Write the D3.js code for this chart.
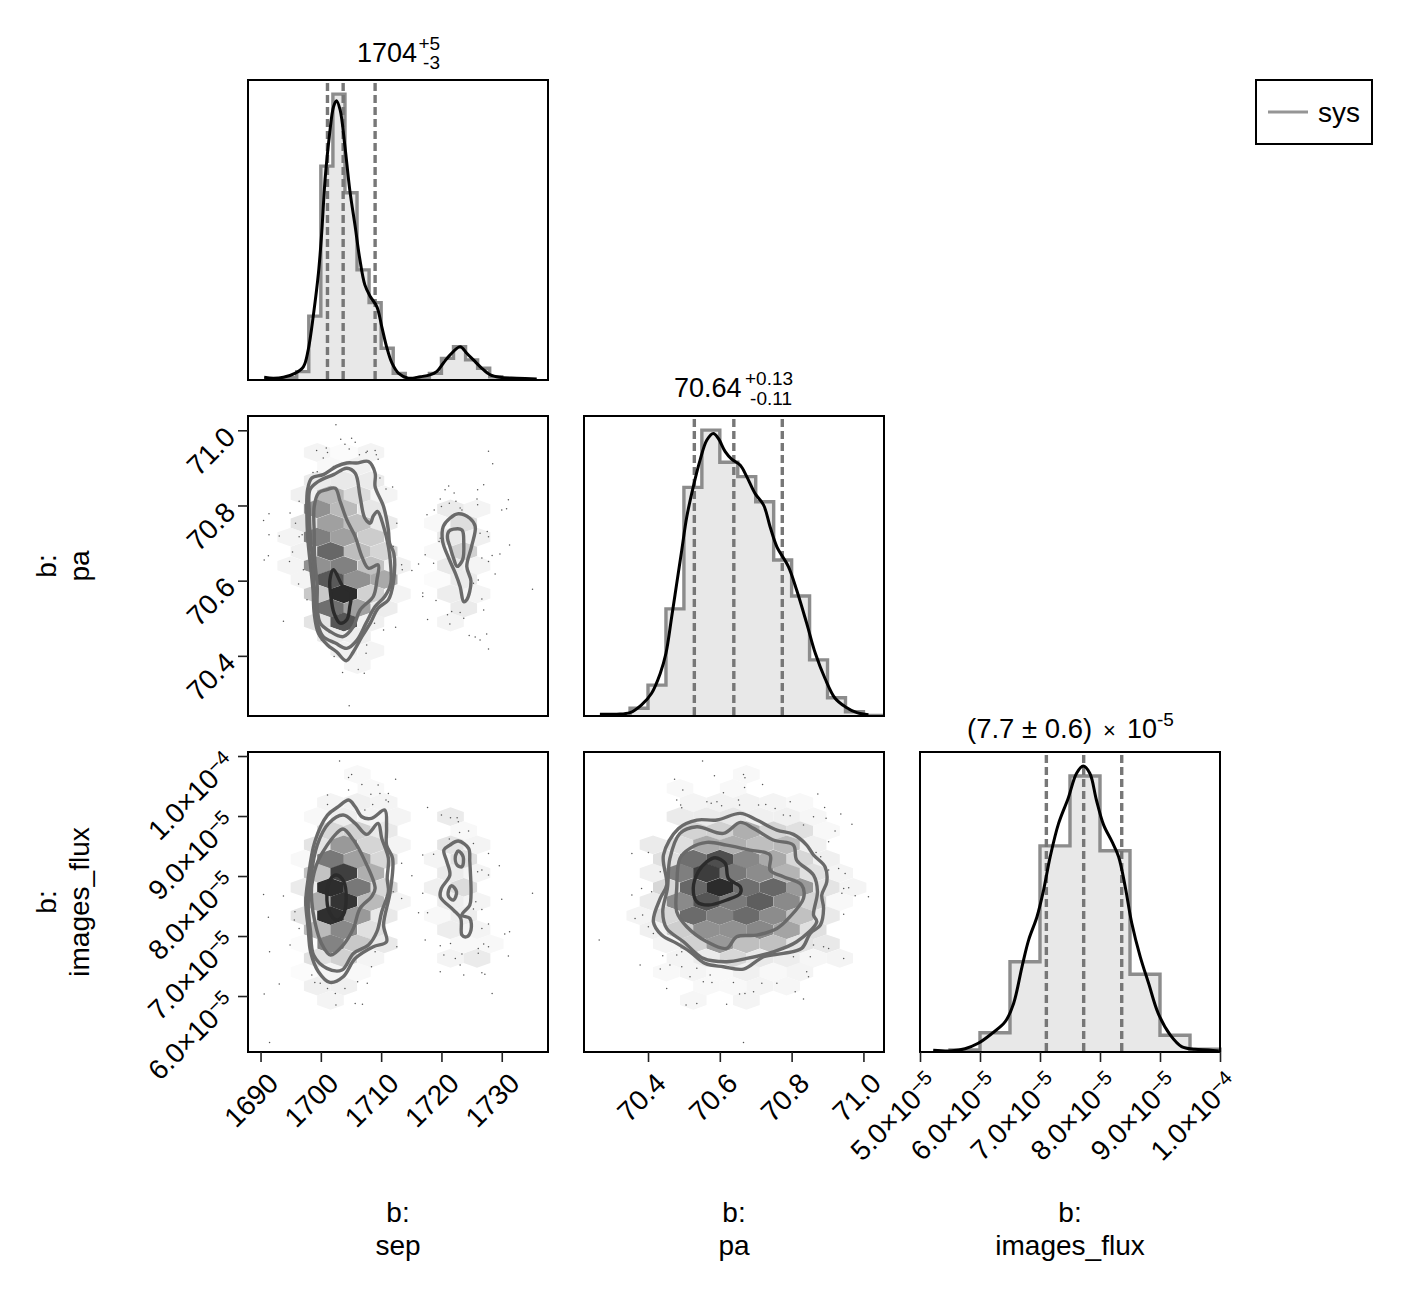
<!DOCTYPE html>
<html>
<head>
<meta charset="utf-8">
<script src="https://cdn.jsdelivr.net/npm/d3@7"></script>
<style>
  html, body { margin: 0; padding: 0; background: #fff; }
  text { font-family: "Liberation Sans", Arial, sans-serif; fill: #000; }
</style>
</head>
<body>
<svg id="chart" width="1404" height="1292"></svg>
<script>
// tick labels
const sepTicks = [1690, 1700, 1710, 1720, 1730];
const paTicks = [70.4, 70.6, 70.8, 71.0];
const fluxTicksX = [5, 6, 7, 8, 9, 10];
const fluxTicksY = [6, 7, 8, 9, 10];
const fluxMantissa = {5: "5.0", 6: "6.0", 7: "7.0", 8: "8.0", 9: "9.0", 10: "1.0"};
const fluxExponent = {5: "\u22125", 6: "\u22125", 7: "\u22125", 8: "\u22125", 9: "\u22125", 10: "\u22124"};

// histograms (flux is in units of 1e-5 everywhere)
const sepEdges = [1692, 1694, 1696, 1698, 1700, 1702, 1704, 1706, 1708, 1710, 1712, 1714, 1716, 1718, 1720, 1722, 1724, 1726, 1728, 1730, 1732, 1734];
const sepHist = [.002, .008, .028, .213, .713, .953, .624, .367, .258, .106, .022, .003, .008, .022, .072, .111, .067, .039, .011, .004, .002];
const paEdges = [70.35, 70.4, 70.45, 70.5, 70.55, 70.6, 70.65, 70.7, 70.75, 70.8, 70.85, 70.9, 70.95, 71.0, 71.05];
const paHist = [.026, .103, .357, .762, .953, .846, .798, .714, .52, .4, .187, .061, .014, .002];
const fluxEdges = [5.5, 6, 6.5, 7, 7.5, 8, 8.5, 9, 9.5, 10];
const fluxHist = [.007, .064, .301, .687, .92, .671, .259, .056, .009];

// quantile lines
const sepQuant = [1701.1, 1703.7, 1709.0];
const paQuant = [70.529, 70.639, 70.774];
const fluxQuant = [7.106, 7.728, 8.362];

// kde curves
const sepKde = [[1690.6,.009],[1692.1,.006],[1693.8,.009],[1695.7,.022],[1697.1,.044],[1697.9,.1],[1698.8,.222],[1699.6,.356],[1700.1,.478],[1700.7,.667],[1701.4,.811],[1702.1,.911],[1702.6,.931],[1703.2,.9],[1704,.778],[1704.8,.633],[1705.7,.511],[1706.4,.411],[1707.3,.317],[1708.2,.278],[1709.3,.244],[1710.1,.178],[1710.9,.111],[1711.8,.056],[1712.9,.022],[1714.5,.006],[1716.5,.011],[1718.1,.017],[1719.2,.028],[1720.3,.056],[1721.4,.083],[1723.1,.111],[1724.2,.089],[1725.3,.067],[1726.7,.039],[1728.1,.017],[1729.7,.009],[1732.5,.006],[1735.8,.003]];
const paKde = [[70.266,.006],[70.313,.006],[70.35,.011],[70.382,.037],[70.41,.076],[70.434,.142],[70.45,.209],[70.466,.331],[70.48,.442],[70.494,.553],[70.508,.664],[70.526,.764],[70.545,.853],[70.564,.92],[70.582,.942],[70.596,.925],[70.615,.881],[70.633,.856],[70.657,.836],[70.675,.798],[70.698,.742],[70.722,.703],[70.74,.631],[70.759,.564],[70.791,.498],[70.814,.42],[70.842,.309],[70.866,.209],[70.893,.125],[70.921,.059],[70.949,.031],[70.982,.011],[71.014,.004]];
const fluxKde = [[5.22,.006],[5.53,.004],[5.75,.011],[5.97,.029],[6.2,.062],[6.42,.101],[6.56,.162],[6.7,.284],[6.81,.373],[6.95,.451],[7.06,.54],[7.17,.651],[7.31,.762],[7.47,.846],[7.61,.929],[7.72,.953],[7.83,.929],[7.94,.84],[8.06,.757],[8.2,.701],[8.31,.651],[8.42,.551],[8.53,.429],[8.67,.318],[8.81,.229],[8.97,.129],[9.17,.057],[9.36,.018],[9.58,.009],[9.81,.007],[9.98,.003]];

// hexbin cells: x, y, density (0-100)
const hexSepPa = [
  [1699.4,70.941,5],[1703.8,70.941,2],[1708.3,70.941,5],
  [1701.6,70.904,3],[1706.05,70.904,7],
  [1699.4,70.866,9],[1703.8,70.866,10],[1708.3,70.866,9],
  [1697.2,70.828,7],[1701.6,70.828,32],[1706.05,70.828,16],[1710.5,70.828,5],
  [1699.4,70.791,50],[1703.8,70.791,31],[1708.3,70.791,11],
  [1697.2,70.753,12],[1701.6,70.753,43],[1706.05,70.753,29],[1710.5,70.753,9],
  [1695,70.716,5],[1699.4,70.716,58],[1703.8,70.716,43],[1708.3,70.716,23],
  [1697.2,70.678,7],[1701.6,70.678,69],[1706.05,70.678,30],[1710.5,70.678,19],
  [1695,70.64,5],[1699.4,70.64,50],[1703.8,70.64,57],[1708.3,70.64,28],[1712.7,70.64,7],
  [1697.2,70.603,5],[1701.6,70.603,75],[1706.05,70.603,50],[1710.5,70.603,39],
  [1699.4,70.565,25],[1703.8,70.565,96],[1708.3,70.565,21],[1712.7,70.565,5],
  [1701.6,70.527,65],[1706.05,70.527,43],[1710.5,70.527,8],
  [1699.4,70.49,12],[1703.8,70.49,77],[1708.3,70.49,7],
  [1701.6,70.452,9],[1706.05,70.452,8],
  [1703.8,70.414,7],[1708.3,70.414,5],
  [1706.05,70.377,5],
  [1721.5,70.791,9],[1725.9,70.791,5],
  [1719.3,70.753,3],[1723.7,70.753,15],
  [1721.5,70.716,10],[1725.9,70.716,7],
  [1719.3,70.678,3],[1723.7,70.678,21],
  [1721.5,70.64,10],[1725.9,70.64,5],
  [1719.3,70.603,2],[1723.7,70.603,9],
  [1721.5,70.565,8],[1725.9,70.565,5],
  [1723.7,70.527,9],
  [1721.5,70.49,5]
];
const hexSepFlux = [
  [1706.05,9.694,3],
  [1708.3,9.461,3],
  [1701.6,9.225,5],[1706.05,9.225,7],[1710.5,9.225,5],
  [1699.4,8.99,3],[1703.8,8.99,8],[1708.3,8.99,5],[1712.7,8.99,5],
  [1701.6,8.755,18],[1706.05,8.755,21],[1710.5,8.755,10],
  [1699.4,8.52,12],[1703.8,8.52,46],[1708.3,8.52,19],[1712.7,8.52,5],
  [1697.2,8.28,3],[1701.6,8.28,61],[1706.05,8.28,43],[1710.5,8.28,18],
  [1699.4,8.05,27],[1703.8,8.05,87],[1708.3,8.05,36],
  [1697.2,7.81,9],[1701.6,7.81,95],[1706.05,7.81,61],[1710.5,7.81,18],
  [1699.4,7.575,38],[1703.8,7.575,92],[1708.3,7.575,31],[1712.7,7.575,5],
  [1697.2,7.34,12],[1701.6,7.34,94],[1706.05,7.34,46],[1710.5,7.34,10],
  [1699.4,7.105,31],[1703.8,7.105,54],[1708.3,7.105,14],
  [1701.6,6.87,56],[1706.05,6.87,25],[1710.5,6.87,10],[1697.2,6.87,2],
  [1699.4,6.63,14],[1703.8,6.63,21],[1708.3,6.63,5],
  [1701.6,6.4,5],[1706.05,6.4,3],[1697.2,6.4,2],
  [1699.4,6.165,7],[1703.8,6.165,7],
  [1701.6,5.93,5],
  [1721.5,8.99,9],
  [1723.7,8.755,3],
  [1721.5,8.52,12],[1725.9,8.52,5],
  [1719.3,8.28,5],[1723.7,8.28,14],
  [1721.5,8.05,9],[1725.9,8.05,5],
  [1719.3,7.81,7],[1723.7,7.81,16],
  [1721.5,7.575,8],[1725.9,7.575,5],
  [1719.3,7.34,3],[1723.7,7.34,8],
  [1721.5,7.105,8],[1725.9,7.105,5],
  [1723.7,6.87,3],[1728.1,6.87,3],
  [1721.5,6.63,5],[1725.9,6.63,9]
];
const hexPaFlux = [
  [70.674,9.694,3],
  [70.489,9.461,3],[70.637,9.461,3],
  [70.526,9.225,5],[70.6,9.225,6],[70.674,9.225,6],[70.749,9.225,5],[70.823,9.225,3],
  [70.489,8.99,9],[70.563,8.99,9],[70.637,8.99,11],[70.711,8.99,7],[70.786,8.99,7],[70.86,8.99,4],
  [70.526,8.755,20],[70.6,8.755,21],[70.674,8.755,36],[70.749,8.755,19],[70.823,8.755,14],[70.897,8.755,3],
  [70.414,8.52,9],[70.489,8.52,15],[70.563,8.52,38],[70.637,8.52,36],[70.711,8.52,29],[70.786,8.52,31],[70.86,8.52,7],
  [70.451,8.28,14],[70.526,8.28,65],[70.6,8.28,80],[70.674,8.28,54],[70.749,8.28,39],[70.823,8.28,18],[70.897,8.28,7],
  [70.414,8.05,7],[70.489,8.05,58],[70.563,8.05,88],[70.637,8.05,61],[70.711,8.05,52],[70.786,8.05,34],[70.86,8.05,14],[70.934,8.05,5],
  [70.451,7.81,18],[70.526,7.81,69],[70.6,7.81,96],[70.674,7.81,65],[70.749,7.81,69],[70.823,7.81,46],[70.897,7.81,12],[70.971,7.81,5],
  [70.414,7.575,9],[70.489,7.575,53],[70.563,7.575,77],[70.637,7.575,60],[70.711,7.575,73],[70.786,7.575,53],[70.86,7.575,19],[70.934,7.575,3],
  [70.377,7.34,5],[70.451,7.34,18],[70.526,7.34,67],[70.6,7.34,57],[70.674,7.34,67],[70.749,7.34,52],[70.823,7.34,28],[70.897,7.34,10],
  [70.414,7.105,7],[70.489,7.105,22],[70.563,7.105,50],[70.637,7.105,50],[70.711,7.105,54],[70.786,7.105,41],[70.86,7.105,14],
  [70.451,6.87,5],[70.526,6.87,21],[70.6,6.87,46],[70.674,6.87,29],[70.749,6.87,28],[70.823,6.87,12],[70.897,6.87,10],
  [70.489,6.63,5],[70.563,6.63,9],[70.637,6.63,18],[70.711,6.63,10],[70.786,6.63,8],[70.86,6.63,4],[70.934,6.63,5],
  [70.451,6.4,3],[70.526,6.4,5],[70.6,6.4,3],[70.674,6.4,7],[70.749,6.4,3],[70.823,6.4,5],
  [70.563,6.165,3],[70.637,6.165,3],[70.711,6.165,5],[70.786,6.165,4],
  [70.526,5.93,4],[70.674,5.93,5]
];

// contours, outer to inner
const contourSepPa = [
  [[1707.9,70.917],[1709,70.886],[1709,70.85],[1710.4,70.797],[1711.2,70.735],[1711.4,70.7],[1712.1,70.673],[1712,70.593],[1711.2,70.549],[1709.5,70.527],[1708.2,70.487],[1706.8,70.451],[1705.4,70.411],[1704.2,70.387],[1702.6,70.411],[1701.1,70.429],[1699.6,70.46],[1698.9,70.513],[1698.7,70.575],[1698.3,70.638],[1697.9,70.7],[1697.7,70.762],[1697.8,70.842],[1698.5,70.873],[1700.4,70.882],[1702.6,70.904],[1704.3,70.913],[1705.9,70.913]],
  [[1705.7,70.886],[1706.5,70.824],[1707.3,70.766],[1708.2,70.753],[1708.7,70.772],[1709.4,70.784],[1710.4,70.744],[1711.2,70.691],[1711.5,70.655],[1711.6,70.593],[1710.6,70.558],[1709,70.531],[1707.5,70.487],[1706,70.442],[1704.3,70.42],[1702.4,70.434],[1700.4,70.451],[1699.6,70.478],[1699.2,70.531],[1698.9,70.584],[1698.7,70.646],[1698.3,70.709],[1698.1,70.779],[1698.2,70.842],[1699.6,70.864],[1702.1,70.882],[1704.3,70.899]],
  [[1702.4,70.846],[1703.2,70.811],[1704.3,70.762],[1705.7,70.717],[1706.8,70.664],[1707.9,70.633],[1709.5,70.642],[1709.3,70.602],[1708.7,70.558],[1706.5,70.522],[1705.4,70.478],[1703.7,70.451],[1701.5,70.465],[1699.9,70.487],[1699.4,70.531],[1699.4,70.584],[1699,70.655],[1698.9,70.726],[1698.9,70.797],[1699.6,70.833],[1701,70.842]],
  [[1702.1,70.629],[1703.7,70.584],[1705,70.571],[1704.8,70.531],[1704.3,70.496],[1703.2,70.487],[1702.2,70.513],[1701.6,70.567],[1701.5,70.602]],
  [[1722.8,70.778],[1724.7,70.766],[1725.6,70.744],[1725,70.691],[1724.2,70.638],[1724.9,70.598],[1724.2,70.549],[1723.7,70.544],[1723.1,70.584],[1722.3,70.62],[1721.2,70.66],[1720.2,70.704],[1720.3,70.744],[1721.4,70.766]],
  [[1722,70.737],[1723.4,70.735],[1723.7,70.7],[1723.5,70.655],[1722.6,70.638],[1722,70.66],[1721.4,70.691],[1721,70.713],[1721.2,70.731]]
];
const contourSepFlux = [
  [[1704.6,9.266],[1705.7,9.155],[1706.8,8.988],[1708.4,8.961],[1710.6,9.1],[1710.9,8.794],[1710.9,8.516],[1711.9,8.294],[1711.5,7.738],[1710.4,7.183],[1710.9,6.905],[1708.7,6.822],[1705.7,6.627],[1703.7,6.322],[1701.5,6.227],[1699.6,6.405],[1698.3,6.738],[1697.9,7.127],[1697.5,7.572],[1697.9,7.961],[1699,8.572],[1701.1,9.016],[1702.9,9.155]],
  [[1703.7,9.016],[1705.7,8.877],[1707.6,8.694],[1709.5,8.877],[1710.1,8.627],[1711.2,8.294],[1711,7.961],[1711.2,7.738],[1710.1,7.405],[1709.3,7.072],[1707.9,6.849],[1705.4,6.71],[1703.5,6.433],[1701,6.461],[1698.8,6.683],[1698.3,7.072],[1697.9,7.516],[1698.3,7.961],[1699.4,8.516],[1701.3,8.877]],
  [[1703.7,8.783],[1705.4,8.6],[1707.1,8.294],[1709,7.794],[1708.4,7.655],[1706.5,7.461],[1705.4,7.127],[1703.7,6.849],[1701.6,6.683],[1700.1,6.877],[1699,7.238],[1698.5,7.572],[1698.5,7.85],[1699.6,8.266],[1702.6,8.711]],
  [[1702.6,8.016],[1703.8,7.905],[1704.2,7.627],[1703.7,7.349],[1702.6,7.266],[1701.4,7.405],[1701,7.683],[1701.5,7.933]],
  [[1722.8,8.583],[1724.5,8.461],[1724.7,8.238],[1724.9,7.683],[1724.7,7.516],[1723.4,7.349],[1724.7,7.294],[1724.9,7.099],[1724.2,6.988],[1723.4,7.016],[1723.2,7.294],[1722,7.433],[1719.8,7.655],[1720,7.794],[1721.4,8.016],[1720.9,8.238],[1720.4,8.433],[1721.4,8.516]],
  [[1722.8,8.416],[1723.6,8.322],[1723.4,8.155],[1722.6,8.183],[1722.3,8.322]],
  [[1721.7,7.838],[1722.5,7.738],[1722,7.6],[1721.2,7.655],[1721.2,7.766]]
];
const contourPaFlux = [
  [[70.657,9.044],[70.703,8.933],[70.759,8.766],[70.805,8.694],[70.842,8.516],[70.861,8.35],[70.893,8.155],[70.898,7.905],[70.884,7.683],[70.889,7.461],[70.88,7.183],[70.852,7.044],[70.828,6.794],[70.777,6.71],[70.722,6.655],[70.666,6.449],[70.61,6.488],[70.559,6.544],[70.517,6.738],[70.48,6.877],[70.438,7.016],[70.415,7.238],[70.434,7.627],[70.452,7.85],[70.443,8.35],[70.485,8.794],[70.536,8.933],[70.592,8.933]],
  [[70.657,8.894],[70.694,8.794],[70.749,8.6],[70.805,8.516],[70.814,8.266],[70.861,8.016],[70.872,7.738],[70.861,7.349],[70.87,7.238],[70.814,6.905],[70.749,6.738],[70.675,6.627],[70.619,6.572],[70.554,6.627],[70.499,6.905],[70.452,7.127],[70.441,7.405],[70.454,7.794],[70.461,8.294],[70.489,8.711],[70.536,8.822],[70.61,8.711]],
  [[70.564,8.561],[70.619,8.516],[70.684,8.433],[70.74,8.35],[70.74,8.1],[70.777,7.988],[70.828,7.85],[70.833,7.627],[70.791,7.294],[70.759,7.127],[70.703,7.016],[70.647,6.988],[70.619,6.794],[70.564,6.905],[70.508,7.155],[70.48,7.405],[70.48,7.794],[70.489,8.294],[70.517,8.461]],
  [[70.587,8.305],[70.615,8.211],[70.624,7.961],[70.657,7.822],[70.657,7.711],[70.619,7.6],[70.568,7.516],[70.536,7.572],[70.526,7.794],[70.54,8.072],[70.564,8.239]]
];
// which contours of a panel are the darkest (innermost) ones
const darkSepPa = [3];
const darkSepFlux = [3];
const darkPaFlux = [3];

// scatter of the outlying samples
const dotsSepPa = [[1702.5,71.015],[1703.3,70.976],[1704,70.963],[1705.1,70.979],[1705.7,70.968],[1704.7,70.95],[1699.3,70.946],[1700.9,70.953],[1701.1,70.941],[1700.4,70.926],[1706.4,70.935],[1707.7,70.944],[1709,70.946],[1709.2,70.935],[1709.5,70.923],[1702.1,70.904],[1699.4,70.89],[1698.7,70.888],[1707.5,70.941],[1709.8,70.873],[1711.9,70.849],[1710.8,70.844],[1696.4,70.811],[1691.4,70.778],[1690.5,70.76],[1694.9,70.78],[1695.8,70.753],[1691.4,70.722],[1693.1,70.719],[1696.4,70.717],[1696.9,70.722],[1695.3,70.676],[1691.3,70.666],[1690.6,70.655],[1694.8,70.651],[1697.1,70.629],[1696.3,70.591],[1693.8,70.492],[1697.7,70.549],[1712.6,70.753],[1712,70.691],[1713.4,70.642],[1713.5,70.629],[1715.1,70.627],[1716.2,70.644],[1710.4,70.469],[1712.4,70.476],[1708.9,70.487],[1707.6,70.429],[1707.5,70.407],[1702.2,70.398],[1703.6,70.356],[1707.2,70.354],[1706.2,70.364],[1704.7,70.267],[1701.4,70.462],[1700.1,70.442],[1727.8,70.944],[1728.5,70.911],[1727,70.855],[1726,70.842],[1721.2,70.852],[1720.6,70.842],[1722.1,70.833],[1719.8,70.817],[1720,70.797],[1721.3,70.806],[1722.4,70.811],[1723.1,70.793],[1725.9,70.817],[1731.1,70.815],[1730,70.788],[1730.8,70.791],[1718.8,70.788],[1717.6,70.775],[1723.4,70.788],[1726,70.802],[1727.6,70.731],[1726.4,70.726],[1719.8,70.713],[1719.6,70.704],[1727.8,70.717],[1731.3,70.695],[1729.7,70.671],[1728.4,70.667],[1717.3,70.669],[1718.7,70.646],[1726.7,70.66],[1727.8,70.651],[1728.9,70.618],[1725.3,70.593],[1726.1,70.602],[1726.7,70.551],[1716.9,70.567],[1716.9,70.558],[1719.1,70.547],[1735.1,70.577],[1727,70.522],[1721,70.509],[1721.7,70.518],[1723.1,70.515],[1723.7,70.5],[1717.7,70.497],[1721.4,70.485],[1724.6,70.454],[1725.6,70.45],[1726.4,70.442],[1727.5,70.458],[1727.8,70.418]];
const dotsSepFlux = [[1703.1,9.916],[1705.1,9.694],[1704.6,9.644],[1712.4,9.611],[1706.8,9.527],[1709.5,9.516],[1704.6,9.433],[1711.2,9.377],[1709.8,9.377],[1708.3,9.361],[1701.1,9.35],[1701.1,9.194],[1703.2,9.194],[1710.8,9.266],[1711.2,9.238],[1707.3,9.1],[1708.6,9.194],[1710.5,9.1],[1717.7,9.144],[1720,9.016],[1721.5,8.972],[1722.6,8.972],[1722.8,8.905],[1723,8.727],[1724.5,8.75],[1725.3,8.544],[1721.3,8.616],[1727.8,8.377],[1716.9,8.349],[1718.7,8.361],[1690.5,7.694],[1693.8,7.666],[1691.3,7.311],[1693.1,6.199],[1690.6,6.033],[1691.5,5.227],[1694.9,6.849],[1691.5,6.738],[1695.7,7.405],[1696.4,7.127],[1695.6,7.266],[1698.5,6.349],[1699.9,6.211],[1699,6.227],[1701.1,6.127],[1702.4,6.044],[1705.7,5.877],[1706.9,5.861],[1702.5,5.849],[1704,6.127],[1707.7,6.211],[1706.1,6.238],[1708.4,6.488],[1712.6,6.822],[1709,6.738],[1712,7.738],[1713.4,8.211],[1715.1,8.005],[1713.4,7.627],[1716.2,7.388],[1717.7,7.388],[1716.9,7.711],[1729.6,8.172],[1726.7,8.1],[1727.8,8.016],[1726,8.072],[1730,7.611],[1725.7,7.572],[1725.3,7.449],[1726.7,7.444],[1731.3,7.072],[1730.5,7.033],[1727.8,7.199],[1726.7,7.127],[1726.1,6.794],[1727,6.866],[1727.8,6.822],[1717.3,6.933],[1719.8,6.838],[1721.5,6.877],[1720.4,6.683],[1722.3,6.627],[1723.4,6.699],[1726.1,6.711],[1731.1,6.666],[1723.7,6.349],[1726.7,6.388],[1727.2,6.361],[1728.4,6.044],[1735.1,7.711],[1719.8,6.405],[1723.1,6.516]];
const dotsPaFlux = [[70.552,9.916],[70.474,9.611],[70.585,9.672],[70.666,9.694],[70.67,9.639],[70.719,9.527],[70.497,9.433],[70.61,9.388],[70.669,9.477],[70.873,9.366],[70.48,9.266],[70.491,9.183],[70.494,9.138],[70.564,9.238],[70.576,9.211],[70.592,9.238],[70.605,9.172],[70.652,9.266],[70.655,9.183],[70.708,9.183],[70.728,9.194],[70.796,9.238],[70.754,9.127],[70.892,9.144],[70.937,9.033],[70.896,8.961],[70.861,8.988],[70.777,9.016],[70.796,9.005],[70.833,8.85],[70.968,8.861],[70.921,8.75],[70.903,8.572],[70.868,8.394],[70.881,8.322],[70.931,8.127],[70.903,8.1],[70.949,8.044],[70.945,7.794],[70.959,7.805],[71.014,7.655],[70.977,7.672],[70.94,7.711],[70.945,7.361],[70.355,8.377],[70.401,8.394],[70.382,7.794],[70.41,7.738],[70.355,7.683],[70.364,7.294],[70.385,7.349],[70.401,7.155],[70.264,6.933],[70.415,7.044],[70.434,8.072],[70.378,6.516],[70.441,6.672],[70.48,6.683],[70.494,6.738],[70.434,6.449],[70.461,6.516],[70.494,6.488],[70.517,6.322],[70.536,6.461],[70.573,6.349],[70.452,6.127],[70.554,6.238],[70.578,6.227],[70.638,6.227],[70.655,6.033],[70.67,6.044],[70.694,6.072],[70.717,6.211],[70.759,6.211],[70.81,6.072],[70.833,5.949],[70.842,6.405],[70.847,6.322],[70.506,5.849],[70.536,5.877],[70.619,5.861],[70.666,5.227],[70.945,6.627],[70.903,6.794],[70.889,6.822],[70.861,6.849],[70.852,6.655],[70.805,6.655]];

// layout
const svg = d3.select("#chart");
const size = 300;
const colX = [248, 584, 920];
const rowY = [80, 416, 752];
const tickFont = 28, titleFont = 27, supFont = 19;

// scales share the inner panel range
const sepX = d3.scaleLinear().domain([1687.92, 1737.67]).range([0, size]);
const paX = d3.scaleLinear().domain([70.2217, 71.0573]).range([0, size]);
const fluxX = d3.scaleLinear().domain([5, 10]).range([0, size]);
const paY = d3.scaleLinear().domain([70.24, 71.038]).range([size, 0]);
const fluxY = d3.scaleLinear().domain([5.067, 10.067]).range([size, 0]);
const histY = d3.scaleLinear().domain([0, 1]).range([size, 0]);
const shade = d3.scaleLinear().domain([0, 100]).range(["#ffffff", "#222222"]);

const sepStep = 2.21, paStepX = .03714, paStepY = .0376, fluxStep = .2356;

function panel(col, row) {
  return svg.append("g").attr("transform", `translate(${colX[col]},${rowY[row]})`);
}

function frame(g) {
  g.append("rect").attr("width", size).attr("height", size)
    .attr("fill", "none").attr("stroke", "#000").attr("stroke-width", 2);
}

// build one diagonal panel
function histPanel(col, row, x, edges, counts, quant, kde) {
  const g = panel(col, row);
  const steps = edges.map((e, i) => [e, i < counts.length ? counts[i] : counts[counts.length - 1]]);
  g.append("path").datum(steps)
    .attr("d", d3.area().curve(d3.curveStepAfter).x(d => x(d[0])).y0(histY(0)).y1(d => histY(d[1])))
    .attr("fill", "#e8e8e8");
  const outline = [[edges[0], 0]].concat(steps, [[edges[edges.length - 1], 0]]);
  g.append("path").datum(outline)
    .attr("d", d3.line().curve(d3.curveStepAfter).x(d => x(d[0])).y(d => histY(d[1])))
    .attr("fill", "none").attr("stroke", "#8c8c8c").attr("stroke-width", 3.4);
  g.selectAll(".quant").data(quant).join("line").attr("class", "quant")
    .attr("x1", d => x(d)).attr("x2", d => x(d)).attr("y1", 3).attr("y2", size)
    .attr("stroke", "#777").attr("stroke-width", 3.4).attr("stroke-dasharray", "8 4");
  g.append("path").datum(kde)
    .attr("d", d3.line().curve(d3.curveCatmullRom).x(d => x(d[0])).y(d => histY(d[1])))
    .attr("fill", "none").attr("stroke", "#000").attr("stroke-width", 3);
  frame(g);
  return g;
}

// build one off-diagonal panel
function pairPanel(col, row, x, y, hexes, stepX, stepY, dots, contours, dark) {
  const g = panel(col, row);
  const line = d3.line().curve(d3.curveCatmullRomClosed).x(d => x(d[0])).y(d => y(d[1]));
  g.selectAll(".hex").data(hexes).join("polygon").attr("class", "hex")
    .attr("points", d => [
      [d[0], d[1] + stepY * 2 / 3],
      [d[0] + stepX, d[1] + stepY / 3],
      [d[0] + stepX, d[1] - stepY / 3],
      [d[0], d[1] - stepY * 2 / 3],
      [d[0] - stepX, d[1] - stepY / 3],
      [d[0] - stepX, d[1] + stepY / 3]
    ].map(p => [x(p[0]), y(p[1])].join(",")).join(" "))
    .attr("fill", d => shade(d[2]));
  g.selectAll(".dot").data(dots).join("circle").attr("class", "dot")
    .attr("cx", d => x(d[0])).attr("cy", d => y(d[1])).attr("r", .75).attr("fill", "#555");
  g.selectAll(".contour").data(contours).join("path").attr("class", "contour")
    .attr("d", line).attr("fill", "none").attr("stroke-width", 3.4)
    .attr("stroke", (d, i) => dark.includes(i) ? "#2b2b2b" : "#6a6a6a");
  frame(g);
  return g;
}

function styleAxis(a) {
  a.select(".domain").remove();
  a.selectAll(".tick line").attr("stroke", "#222").attr("stroke-width", 1.6);
}

function bottomAxis(g, x, ticks, fmt) {
  const a = g.append("g").attr("transform", `translate(0,${size})`)
    .call(d3.axisBottom(x).tickValues(ticks).tickSize(10).tickFormat(fmt));
  styleAxis(a);
  a.selectAll(".tick text").attr("x", 0).attr("y", 0).attr("dy", "0.35em")
    .attr("text-anchor", "end").attr("font-size", tickFont)
    .attr("transform", "translate(12,26) rotate(-45)");
  return a;
}

function leftAxis(g, y, ticks, fmt) {
  const a = g.append("g")
    .call(d3.axisLeft(y).tickValues(ticks).tickSize(10).tickFormat(fmt));
  styleAxis(a);
  a.selectAll(".tick text").attr("x", 0).attr("y", 0).attr("dy", "0.35em")
    .attr("text-anchor", "end").attr("font-size", tickFont)
    .attr("transform", "translate(-18,1) rotate(-45)");
  return a;
}

// flux labels get a raised exponent
function fluxLabels(a) {
  a.selectAll(".tick text").each(function(d) {
    const t = d3.select(this).text(null);
    t.append("tspan").text(fluxMantissa[d] + "\u00d710");
    t.append("tspan").attr("dy", "-0.42em").attr("font-size", 20).text(fluxExponent[d]);
  });
}

const f1 = d => d3.format(".1f")(d);
const f0 = d => d3.format("d")(d);

// diagonal
histPanel(0, 0, sepX, sepEdges, sepHist, sepQuant, sepKde);
histPanel(1, 1, paX, paEdges, paHist, paQuant, paKde);
const g22 = histPanel(2, 2, fluxX, fluxEdges, fluxHist, fluxQuant, fluxKde);
fluxLabels(bottomAxis(g22, fluxX, fluxTicksX, f1));

// lower triangle
const g10 = pairPanel(0, 1, sepX, paY, hexSepPa, sepStep, paStepY, dotsSepPa, contourSepPa, darkSepPa);
leftAxis(g10, paY, paTicks, f1);
const g20 = pairPanel(0, 2, sepX, fluxY, hexSepFlux, sepStep, fluxStep, dotsSepFlux, contourSepFlux, darkSepFlux);
fluxLabels(leftAxis(g20, fluxY, fluxTicksY, f1));
bottomAxis(g20, sepX, sepTicks, f0);
const g21 = pairPanel(1, 2, paX, fluxY, hexPaFlux, paStepX, fluxStep, dotsPaFlux, contourPaFlux, darkPaFlux);
bottomAxis(g21, paX, paTicks, f1);

// titles
function addText(x, y, str, fs, anchor) {
  return svg.append("text").attr("x", x).attr("y", y).attr("font-size", fs)
    .attr("text-anchor", anchor || "start").text(str);
}
addText(357, 61.5, "1704", titleFont);
addText(418.5, 50, "+5", supFont);
addText(440, 68.5, "-3", supFont, "end");
addText(674, 397, "70.64", titleFont);
addText(745, 385, "+0.13", supFont);
addText(792, 404.5, "-0.11", supFont, "end");
addText(967, 738, "(7.7 \u00b1 0.6)", 27.5);
addText(1103, 738, "\u00d7", 22);
addText(1127, 738, "10", titleFont);
addText(1157, 726, "-5", supFont);

// axis names
const xNames = ["sep", "pa", "images_flux"];
const yNames = ["pa", "images_flux"];
xNames.forEach((n, i) => {
  addText(colX[i] + 150, 1222, "b:", tickFont, "middle");
  addText(colX[i] + 150, 1255, n, tickFont, "middle");
});
yNames.forEach((n, i) => {
  const cy = rowY[i + 1] + 150;
  svg.append("text").attr("transform", `translate(56,${cy}) rotate(-90)`)
    .attr("font-size", tickFont).attr("text-anchor", "middle").text("b:");
  svg.append("text").attr("transform", `translate(89,${cy}) rotate(-90)`)
    .attr("font-size", tickFont).attr("text-anchor", "middle").text(n);
});

// legend
const legend = svg.append("g").attr("transform", "translate(1256,80)");
legend.append("rect").attr("width", 116).attr("height", 64)
  .attr("fill", "#fff").attr("stroke", "#000").attr("stroke-width", 2);
legend.append("line").attr("x1", 12).attr("x2", 52).attr("y1", 32).attr("y2", 32)
  .attr("stroke", "#959595").attr("stroke-width", 3);
legend.append("text").attr("x", 62).attr("y", 42).attr("font-size", tickFont).text("sys");
</script>
</body>
</html>
